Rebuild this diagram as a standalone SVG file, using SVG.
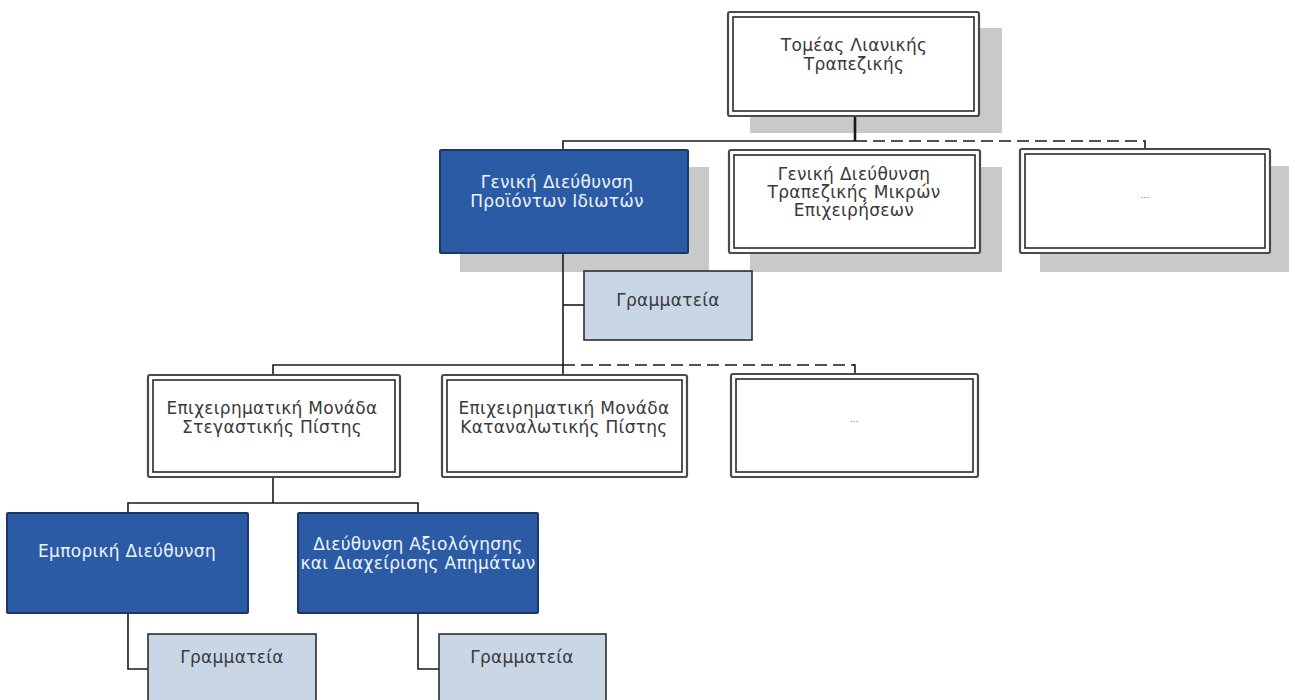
<svg xmlns="http://www.w3.org/2000/svg" width="1289" height="700" viewBox="0 0 1289 700">
<style>
.bg{fill:#ffffff}
.shadow{fill:#c9c9c9}
.wo{fill:#ffffff;stroke:#4a4a4a;stroke-width:2.2}
.wi{fill:none;stroke:#2a2a2a;stroke-width:1.6}
.blue{fill:#2b5ba4;stroke:#1a3766;stroke-width:2}
.lb{fill:#c9d6e6;stroke:#2e2e2e;stroke-width:1.6}
.t{font-family:"DejaVu Sans","Liberation Sans",sans-serif;font-size:17px;letter-spacing:0.3px;fill:#3a3a3a;text-anchor:middle}
.tw{font-family:"DejaVu Sans","Liberation Sans",sans-serif;font-size:17px;letter-spacing:0.3px;fill:#eef3fb;text-anchor:middle}
.dots{font-family:"DejaVu Sans","Liberation Sans",sans-serif;font-size:9px;fill:#666666;text-anchor:middle}
.c{fill:none;stroke:#1a1a1a;stroke-width:1.6}
.cd{fill:none;stroke:#1a1a1a;stroke-width:1.6;stroke-dasharray:12 6}
</style>
<rect class="bg" x="0" y="0" width="1289" height="700"/>

<g id="shadows">
<rect class="shadow" x="750" y="28" width="252" height="105"/>
<rect class="shadow" x="460" y="167" width="249" height="105"/>
<rect class="shadow" x="750" y="167" width="252" height="105"/>
<rect class="shadow" x="1040" y="166" width="252" height="106"/>
</g>

<g id="connectors">
<line class="c" x1="855" y1="116" x2="855" y2="141" style="stroke-width:2.6"/>
<polyline class="c" points="563,150 563,141 855,141"/>
<polyline class="cd" points="855,141 1145,141 1145,149"/>
<line class="c" x1="563" y1="253" x2="563" y2="365"/>
<line class="c" x1="563" y1="305" x2="584" y2="305"/>
<polyline class="c" points="273,375 273,365 563,365 563,375"/>
<polyline class="cd" points="563,365 855,365"/>
<polyline class="c" points="853,365 855,365 855,374"/>
<line class="c" x1="273" y1="477" x2="273" y2="503"/>
<polyline class="c" points="128,513 128,503 418,503 418,513"/>
<polyline class="c" points="128,613 128,669 148,669"/>
<polyline class="c" points="418,613 418,669 439,669"/>
</g>

<g id="n-top">
<rect class="wo" x="728" y="12" width="251" height="104" rx="2"/>
<rect class="wi" x="733" y="17" width="241" height="94"/>
<text class="t" x="854" y="51">Τομέας Λιανικής</text>
<text class="t" x="854" y="70">Τραπεζικής</text>
</g>

<g id="n-gd-idioton">
<rect class="blue" x="440" y="150" width="248" height="103" rx="1"/>
<text class="tw" x="557" y="188">Γενική Διεύθυνση</text>
<text class="tw" x="557" y="207">Προϊόντων Ιδιωτών</text>
</g>

<g id="n-gd-mikron">
<rect class="wo" x="729" y="150" width="251" height="103" rx="2"/>
<rect class="wi" x="734" y="155" width="241" height="93"/>
<text class="t" x="854" y="180">Γενική Διεύθυνση</text>
<text class="t" x="854" y="198">Τραπεζικής Μικρών</text>
<text class="t" x="854" y="216">Επιχειρήσεων</text>
</g>

<g id="n-more-1">
<rect class="wo" x="1020" y="149" width="250" height="104" rx="2"/>
<rect class="wi" x="1025" y="154" width="240" height="94"/>
<text class="dots" x="1145" y="198">...</text>
</g>

<g id="n-gram-1">
<rect class="lb" x="584" y="271" width="168" height="69"/>
<text class="t" x="668" y="306">Γραμματεία</text>
</g>

<g id="n-stegastiki">
<rect class="wo" x="148" y="375" width="252" height="102" rx="2"/>
<rect class="wi" x="153" y="380" width="242" height="92"/>
<text class="t" x="272" y="414">Επιχειρηματική Μονάδα</text>
<text class="t" x="272" y="433">Στεγαστικής Πίστης</text>
</g>

<g id="n-katanalotiki">
<rect class="wo" x="442" y="375" width="245" height="102" rx="2"/>
<rect class="wi" x="447" y="380" width="235" height="92"/>
<text class="t" x="564" y="414">Επιχειρηματική Μονάδα</text>
<text class="t" x="564" y="433">Καταναλωτικής Πίστης</text>
</g>

<g id="n-more-2">
<rect class="wo" x="731" y="374" width="247" height="103" rx="2"/>
<rect class="wi" x="736" y="379" width="237" height="93"/>
<text class="dots" x="854" y="422">...</text>
</g>

<g id="n-emporiki">
<rect class="blue" x="7" y="513" width="241" height="100" rx="1"/>
<text class="tw" x="127" y="557">Εμπορική Διεύθυνση</text>
</g>

<g id="n-axiologisis">
<rect class="blue" x="298" y="513" width="240" height="100" rx="1"/>
<text class="tw" x="418" y="550">Διεύθυνση Αξιολόγησης</text>
<text class="tw" x="418" y="569">και Διαχείρισης Απημάτων</text>
</g>

<g id="n-gram-2">
<rect class="lb" x="148" y="634" width="168" height="90"/>
<text class="t" x="232" y="663">Γραμματεία</text>
</g>

<g id="n-gram-3">
<rect class="lb" x="439" y="634" width="167" height="90"/>
<text class="t" x="522" y="663">Γραμματεία</text>
</g>
</svg>
